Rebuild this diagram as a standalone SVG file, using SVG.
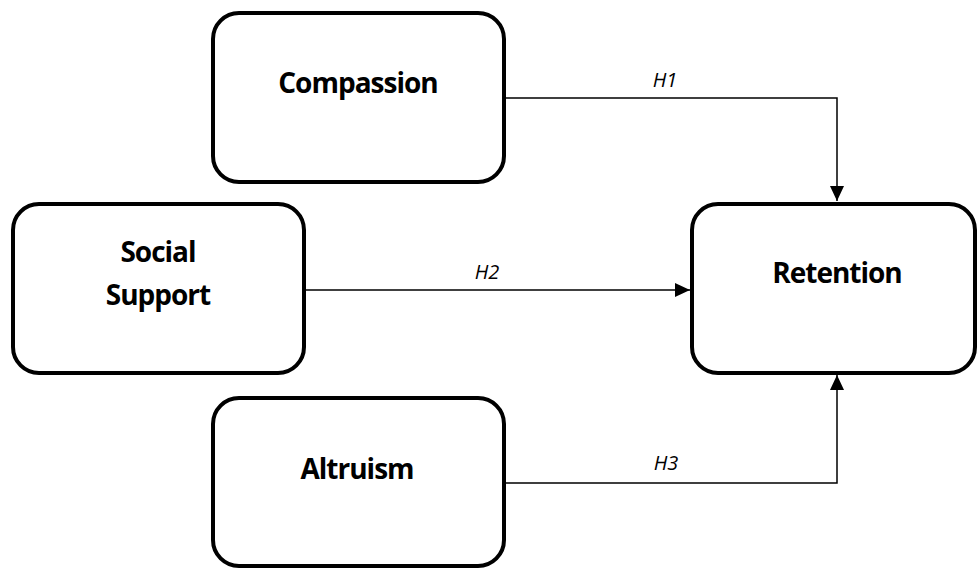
<svg xmlns="http://www.w3.org/2000/svg" width="978" height="569" viewBox="0 0 978 569">
<defs>
<style>
.box{fill:#fff;stroke:#000;stroke-width:4}
.lbl{font-family:"Open Sans","Noto Sans",sans-serif;font-weight:bold;font-size:28px;text-anchor:middle;fill:#000;letter-spacing:-1px}
.h{font-family:"Open Sans","Noto Sans",sans-serif;font-style:italic;font-size:20px;text-anchor:middle;fill:#000}
.c{fill:none;stroke:#000;stroke-width:1.5}
</style>
<marker id="arr" markerWidth="15" markerHeight="14" refX="15" refY="7" orient="auto" markerUnits="userSpaceOnUse">
<path d="M0,0 L15,7 L0,14 Z" fill="#000"/>
</marker>
</defs>
<g id="connectors">
<polyline class="c" points="505,98 837,98 837,201" marker-end="url(#arr)"/>
<line class="c" x1="305" y1="290" x2="690" y2="290" marker-end="url(#arr)"/>
<polyline class="c" points="505,483 837,483 837,375" marker-end="url(#arr)"/>
<text class="h" x="665" y="87">H1</text>
<text class="h" x="487" y="279">H2</text>
<text class="h" x="666" y="470">H3</text>
</g>
<g id="compassion">
<rect class="box" x="213" y="13" width="291" height="169" rx="26"/>
<text class="lbl" x="358" y="93">Compassion</text>
</g>
<g id="social-support">
<rect class="box" x="13" y="204" width="291" height="169" rx="26"/>
<text class="lbl" x="158" y="262">Social</text>
<text class="lbl" x="158" y="305">Support</text>
</g>
<g id="altruism">
<rect class="box" x="213" y="398" width="291" height="168" rx="26"/>
<text class="lbl" x="357" y="479">Altruism</text>
</g>
<g id="retention">
<rect class="box" x="692" y="204" width="283" height="169" rx="26"/>
<text class="lbl" x="837" y="283">Retention</text>
</g>
</svg>
